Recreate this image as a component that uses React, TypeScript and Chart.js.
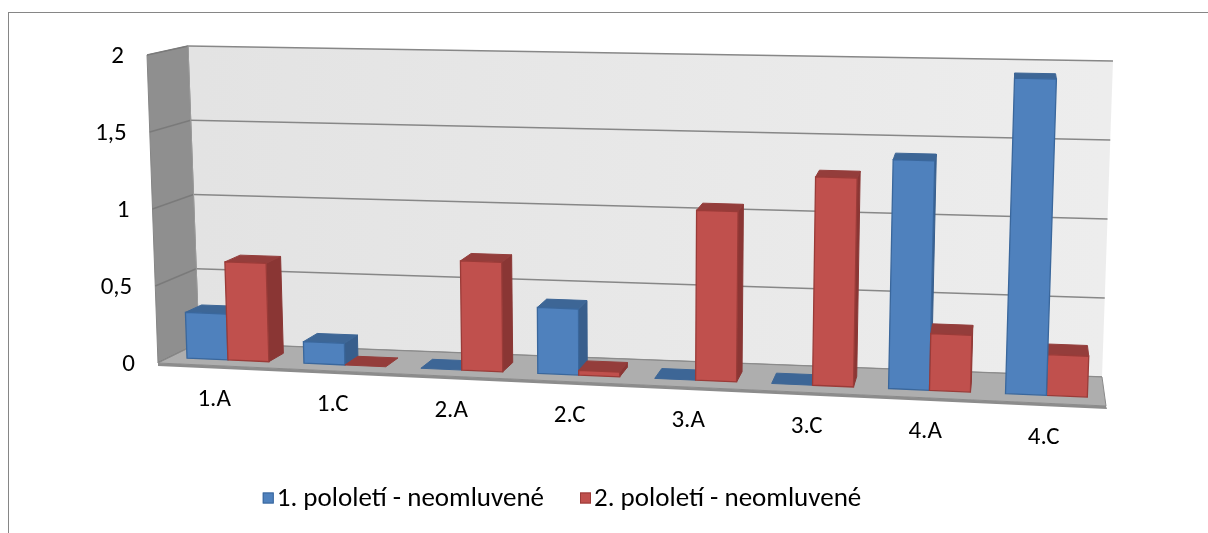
import React, { useEffect, useRef } from "react";
import { Chart, registerables } from "chart.js";

Chart.register(...registerables);

// ---------- data ----------
const categories = ["1.A", "1.C", "2.A", "2.C", "3.A", "3.C", "4.A", "4.C"];
const firstHalf = [0.3, 0.14, 0, 0.42, 0, 0, 1.42, 1.94];
const secondHalf = [0.64, 0, 0.7, 0.03, 1.07, 1.3, 0.35, 0.25];
const seriesNames = ["1. pololetí - neomluvené", "2. pololetí - neomluvené"];
const yMin = 0;
const yMax = 2;
const yStep = 0.5;

// ---------- styling / layout ----------
const FAMILY = "Carlito, Lato, 'Open Sans', sans-serif";
const AXIS_SIZE = 25;
const LEGEND_SIZE = 27;
const COLORS = [
  { front: "#4F81BD", top: "#3D6696", side: "#385E8C", edge: "#3A679C" },
  { front: "#C0504D", top: "#943D3B", side: "#8A3634", edge: "#9A3B38" },
];
// canvas origin on the page
const OX = 9;
const OY = 13;
// 3D box corners (page coordinates)
const FRONT = { bl: [158, 363], br: [1106, 406], tl: [147, 55], tr: [1118, 74] };
const BACK = { bl: [199, 343], br: [1102, 377], tl: [188, 46], tr: [1113, 61] };
const D0 = 0.28;
const D1 = 0.68;
// legend centre (page coordinates)
const LEGEND_CX = 562;
const LEGEND_CY = 498;

const lerp = (a: number, b: number, t: number) => a + (b - a) * t;
function plane(c: any, u: number, v: number) {
  const bx = lerp(c.bl[0], c.br[0], u);
  const by = lerp(c.bl[1], c.br[1], u);
  const tx = lerp(c.tl[0], c.tr[0], u);
  const ty = lerp(c.tl[1], c.tr[1], u);
  return [lerp(bx, tx, v), lerp(by, ty, v)];
}
function P(u: number, v: number, d: number) {
  const f = plane(FRONT, u, v);
  const b = plane(BACK, u, v);
  return [lerp(f[0], b[0], d) - OX, lerp(f[1], b[1], d) - OY];
}
function poly(ctx: CanvasRenderingContext2D, pts: number[][], fill: any, stroke?: string, lw = 1) {
  ctx.beginPath();
  ctx.moveTo(pts[0][0], pts[0][1]);
  for (let i = 1; i < pts.length; i++) ctx.lineTo(pts[i][0], pts[i][1]);
  ctx.closePath();
  if (fill) {
    ctx.fillStyle = fill;
    ctx.fill();
  }
  if (stroke) {
    ctx.strokeStyle = stroke;
    ctx.lineWidth = lw;
    ctx.stroke();
  }
}
function line(ctx: CanvasRenderingContext2D, a: number[], b: number[], color: string, lw: number) {
  ctx.beginPath();
  ctx.moveTo(a[0], a[1]);
  ctx.lineTo(b[0], b[1]);
  ctx.strokeStyle = color;
  ctx.lineWidth = lw;
  ctx.stroke();
}

const threeD = {
  id: "threeD",
  beforeDatasetsDraw(chart: any) {
    const ctx: CanvasRenderingContext2D = chart.ctx;
    const ca = chart.chartArea;
    const xs = chart.scales.x;
    const ys = chart.scales.y;
    const toU = (px: number) => (px - ca.left) / (ca.right - ca.left);
    const toV = (py: number) => (ca.bottom - py) / (ca.bottom - ca.top);
    ctx.save();

    // back wall
    const bw = [P(0, 0, 1), P(1, 0, 1), P(1, 1, 1), P(0, 1, 1)];
    const g = ctx.createLinearGradient(bw[0][0], 0, bw[1][0], 0);
    g.addColorStop(0, "#E3E3E3");
    g.addColorStop(1, "#EDEDED");
    poly(ctx, bw, g);
    // left wall
    const lw = [P(0, 0, 0), P(0, 0, 1), P(0, 1, 1), P(0, 1, 0)];
    poly(ctx, lw, "#8F8F8F", "#858585", 1);

    // grid lines (walls)
    for (const t of ys.ticks) {
      const v = toV(ys.getPixelForValue(t.value));
      line(ctx, P(0, v, 1), P(1, v, 1), "#878787", 1.6);
      line(ctx, P(0, v, 0), P(0, v, 1), "#7A7A7A", 1.4);
    }
    line(ctx, P(0, 0, 1), P(0, 1, 1), "#9A9A9A", 1);

    // floor
    const fl = [P(0, 0, 0), P(1, 0, 0), P(1, 0, 1), P(0, 0, 1)];
    poly(ctx, fl, "#AEAEAE", "#8A8A8A", 1);
    const f0 = P(0, 0, 0);
    const f1 = P(1, 0, 0);
    poly(ctx, [f0, f1, [f1[0] + 1, f1[1] + 3], [f0[0], f0[1] + 3]], "#8C8C8C");

    // bars
    const items: any[] = [];
    chart.data.datasets.forEach((_ds: any, di: number) => {
      const meta = chart.getDatasetMeta(di);
      meta.data.forEach((el: any) => {
        const p = el.getProps(["x", "y", "base", "width"], true);
        const u0 = toU(p.x - p.width / 2);
        const u1 = toU(p.x + p.width / 2);
        const v0 = toV(p.base);
        const v1 = toV(p.y);
        const c = (u0 + u1) / 2;
        const a = P(c, v1, D0);
        const b = P(c, v1, D1);
        items.push({ di, u0, u1, v0, v1, dx: b[0] - a[0] });
      });
    });
    items.sort((a, b) => Math.abs(b.dx) - Math.abs(a.dx));
    for (const it of items) {
      const c = COLORS[it.di];
      const { u0, u1, v0, v1 } = it;
      const q0 = P(u0, v0, D0), q1 = P(u1, v0, D0), q2 = P(u1, v1, D0), q3 = P(u0, v1, D0);
      const b0 = P(u0, v0, D1), b1 = P(u1, v0, D1), b2 = P(u1, v1, D1), b3 = P(u0, v1, D1);
      const h = v1 - v0;
      if (h > 0.0005) {
        if (b1[0] > q1[0] + 0.3) poly(ctx, [q1, b1, b2, q2], c.side, c.side, 1);
        if (b0[0] < q0[0] - 0.3) poly(ctx, [q0, b0, b3, q3], c.side, c.side, 1);
      }
      poly(ctx, [q3, q2, b2, b3], c.top, c.top, 1);
      if (h > 0.0005) poly(ctx, [q0, q1, q2, q3], c.front, c.edge, 1.3);
    }

    // axis labels
    ctx.font = `${AXIS_SIZE}px ${FAMILY}`;
    ctx.fillStyle = "#000";
    ctx.textBaseline = "middle";
    ctx.textAlign = "right";
    for (const t of ys.ticks) {
      const v = toV(ys.getPixelForValue(t.value));
      const p = P(0, v, 0);
      ctx.fillText(t.label, p[0] - 23, p[1] + 2);
    }
    ctx.textAlign = "center";
    categories.forEach((_c, i) => {
      const u = toU(xs.getPixelForValue(i));
      const p = P(u, 0, 0);
      ctx.fillText(xs.getLabelForValue(i), p[0] - 3, p[1] + 34);
    });
    ctx.restore();
    return false;
  },
  afterDraw(chart: any) {
    const ctx: CanvasRenderingContext2D = chart.ctx;
    ctx.save();
    ctx.font = `${LEGEND_SIZE}px ${FAMILY}`;
    const BOX = 11;
    const GAP = 3;
    const SEP = 36;
    const items = chart.data.datasets.map((ds: any) => ({
      text: ds.label,
      color: ds.backgroundColor,
      edge: ds.borderColor,
    }));
    const widths = items.map((it: any) => BOX + GAP + ctx.measureText(it.text).width);
    const total = widths.reduce((a: number, b: number) => a + b, 0) + SEP * (items.length - 1);
    let x = LEGEND_CX - OX - total / 2;
    const y = LEGEND_CY - OY;
    items.forEach((it: any, i: number) => {
      ctx.fillStyle = it.color;
      ctx.fillRect(x, y - BOX / 2, BOX, BOX);
      ctx.strokeStyle = it.edge;
      ctx.lineWidth = 1;
      ctx.strokeRect(x + 0.5, y - BOX / 2 + 0.5, BOX - 1, BOX - 1);
      ctx.fillStyle = "#000";
      ctx.textAlign = "left";
      ctx.textBaseline = "middle";
      ctx.fillText(it.text, x + BOX + GAP, y + 1);
      x += widths[i] + SEP;
    });
    ctx.restore();
  },
};

export default function App() {
  const ref = useRef<HTMLCanvasElement>(null);
  useEffect(() => {
    const chart = new Chart(ref.current as HTMLCanvasElement, {
      type: "bar",
      data: {
        labels: categories,
        datasets: [
          { label: seriesNames[0], data: firstHalf, backgroundColor: COLORS[0].front, borderColor: COLORS[0].edge, borderWidth: 1 },
          { label: seriesNames[1], data: secondHalf, backgroundColor: COLORS[1].front, borderColor: COLORS[1].edge, borderWidth: 1 },
        ],
      },
      options: {
        animation: false,
        responsive: true,
        maintainAspectRatio: false,
        layout: { padding: { left: 0, right: 0, top: 0, bottom: 60 } },
        datasets: { bar: { categoryPercentage: 0.7, barPercentage: 1 } },
        scales: {
          x: { display: false },
          y: {
            display: false,
            min: yMin,
            max: yMax,
            ticks: { stepSize: yStep, callback: (v: any) => String(v).replace(".", ",") },
          },
        },
        plugins: {
          legend: { display: false },
          tooltip: { enabled: false },
        },
      } as any,
      plugins: [threeD as any],
    });
    return () => chart.destroy();
  }, []);
  return (
    <div
      style={{
        position: "fixed",
        left: 8,
        top: 12,
        width: 1199,
        height: 520,
        borderTop: "1px solid #868686",
        borderLeft: "1px solid #868686",
        background: "#fff",
      }}
    >
      <canvas ref={ref} />
    </div>
  );
}
